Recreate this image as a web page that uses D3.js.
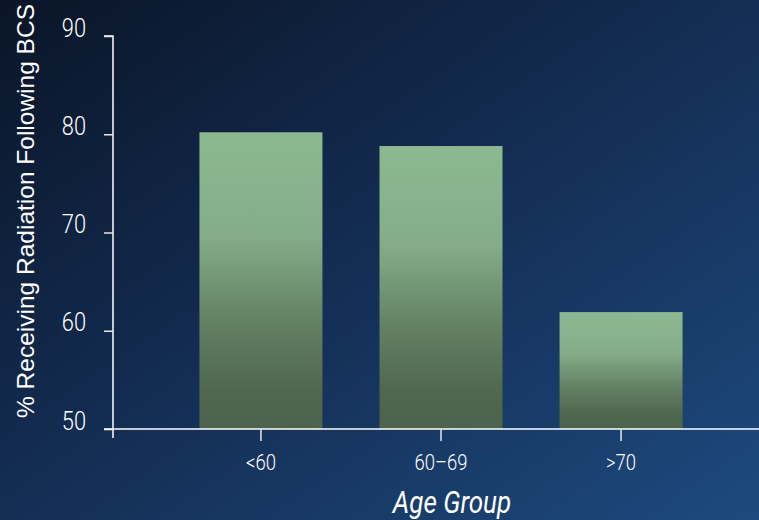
<!DOCTYPE html>
<html>
<head>
<meta charset="utf-8">
<script src="https://cdn.jsdelivr.net/npm/d3@7"></script>
<style>
  html, body { margin: 0; padding: 0; background: #10254a; }
  svg { display: block; }
  .cond { font-family: Roboto, "Noto Sans", sans-serif; font-weight: 300; }
</style>
</head>
<body>
<div id="chart"></div>
<script>
// --- Data ---
const groups = ["<60", "60\u201369", ">70"];
const pctRadiation = [80.2, 78.8, 61.9];
const yTicks = [50, 60, 70, 80, 90];

const W = 759, H = 520;
const narrow = 0.84; // horizontal squeeze to mimic the condensed face

const svg = d3.select("#chart").append("svg")
  .attr("width", W)
  .attr("height", H);

const defs = svg.append("defs");

// background: dark navy top-left to lighter blue bottom-right
const bg = defs.append("linearGradient")
  .attr("id", "bg")
  .attr("x1", "0%").attr("y1", "0%")
  .attr("x2", "100%").attr("y2", "100%");
bg.append("stop").attr("offset", "0%").attr("stop-color", "#0a1527");
bg.append("stop").attr("offset", "45%").attr("stop-color", "#132b50");
bg.append("stop").attr("offset", "100%").attr("stop-color", "#1d4a7e");

// bar fill: light sage at top, dark olive green at bottom
const barGrad = defs.append("linearGradient")
  .attr("id", "bar")
  .attr("x1", "0").attr("y1", "0")
  .attr("x2", "0").attr("y2", "1");
barGrad.append("stop").attr("offset", "0%").attr("stop-color", "#8cb991");
barGrad.append("stop").attr("offset", "35%").attr("stop-color", "#84ad87");
barGrad.append("stop").attr("offset", "65%").attr("stop-color", "#627f63");
barGrad.append("stop").attr("offset", "88%").attr("stop-color", "#4f664f");
barGrad.append("stop").attr("offset", "100%").attr("stop-color", "#4d634d");

svg.append("rect")
  .attr("width", W).attr("height", H)
  .attr("fill", "url(#bg)");

// --- Scales ---
const axisX = 113, axisY = 429;

const x = d3.scaleBand()
  .domain(groups)
  .range([171, 711])
  .paddingInner(0.317)
  .paddingOuter(0.158);

const y = d3.scaleLinear()
  .domain([50, 90])
  .range([axisY, 36]);

// --- Bars ---
svg.append("g")
  .selectAll("rect")
  .data(groups)
  .join("rect")
  .attr("x", (d) => x(d))
  .attr("width", x.bandwidth())
  .attr("y", (d, i) => y(pctRadiation[i]))
  .attr("height", (d, i) => axisY - y(pctRadiation[i]))
  .attr("fill", "url(#bar)");

// --- Axes ---
const yAxis = svg.append("g")
  .attr("transform", `translate(${axisX},0)`)
  .call(d3.axisLeft(y).tickValues(yTicks).tickSize(9));
yAxis.select(".domain").attr("stroke", "#fff").attr("stroke-width", 1.5)
  .attr("d", `M-9,36H0V${axisY + 9}`);
yAxis.selectAll(".tick line").attr("stroke", "#e6e6e6").attr("stroke-width", 1.5);
yAxis.selectAll(".tick text")
  .attr("class", "cond")
  .attr("fill", "#fff")
  .attr("x", -27 / narrow)
  .attr("dy", "0.0em")
  .attr("transform", `scale(${narrow},1)`)
  .style("font-size", "26px");

const xAxis = svg.append("g")
  .attr("transform", `translate(0,${axisY})`)
  .call(d3.axisBottom(x).tickSize(12).tickPadding(13).tickSizeOuter(0));
xAxis.select(".domain").attr("stroke", "#fff").attr("stroke-width", 1.5)
  .attr("d", `M${axisX - 9},0H${W}`);
xAxis.selectAll(".tick line").attr("stroke", "#e6e6e6").attr("stroke-width", 1.5);
xAxis.selectAll(".tick text")
  .attr("class", "cond")
  .attr("fill", "#fff")
  .attr("transform", `scale(${narrow},1)`)
  .style("font-size", "22px");

// --- Axis titles ---
svg.append("text")
  .attr("transform", `translate(34,211) rotate(-90)`)
  .attr("text-anchor", "middle")
  .attr("fill", "#fff")
  .style("font-family", "'Liberation Sans', Arial, sans-serif")
  .style("font-size", "24.5px")
  .text("% Receiving Radiation Following BCS");

svg.append("text")
  .attr("class", "cond")
  .attr("transform", `translate(452,513) scale(${narrow},1)`)
  .attr("text-anchor", "middle")
  .attr("fill", "#fff")
  .style("font-weight", "400")
  .style("font-style", "italic")
  .style("font-size", "31px")
  .text("Age Group");
</script>
</body>
</html>
